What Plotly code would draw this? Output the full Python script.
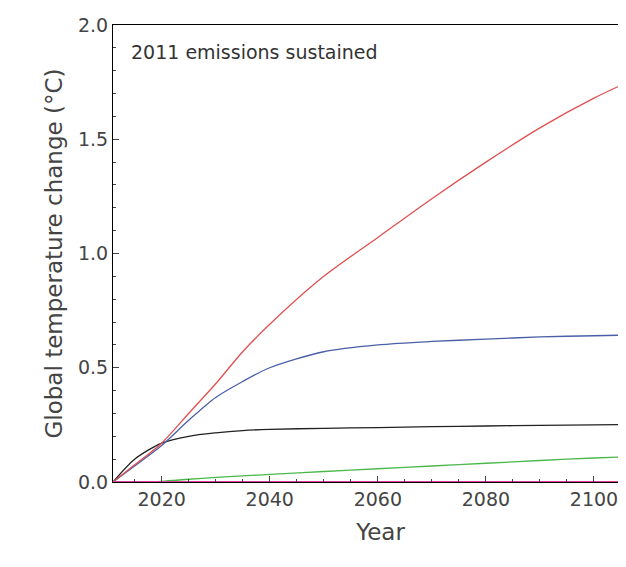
import plotly.graph_objects as go

years = [2011, 2015, 2020, 2025, 2030, 2035, 2040, 2050, 2060, 2070, 2080, 2090, 2100, 2110]
red   = [0.0, 0.075, 0.17, 0.30, 0.43, 0.57, 0.69, 0.90, 1.07, 1.24, 1.40, 1.55, 1.68, 1.79]
blue  = [0.0, 0.07, 0.16, 0.27, 0.37, 0.44, 0.50, 0.57, 0.60, 0.615, 0.625, 0.635, 0.64, 0.645]
black = [0.0, 0.10, 0.17, 0.20, 0.215, 0.225, 0.23, 0.235, 0.238, 0.242, 0.245, 0.248, 0.25, 0.252]
green = [0.0, 0.0, 0.003, 0.012, 0.02, 0.027, 0.033, 0.046, 0.058, 0.07, 0.082, 0.094, 0.105, 0.113]
magenta = [0.0]*len(years)

fig = go.Figure()
for ys, c in [(green, "#4cb84c"), (black, "#222222"), (blue, "#4a5fa8"), (red, "#e05050")]:
    fig.add_trace(go.Scatter(x=years, y=ys, mode="lines", line=dict(color=c, width=1.3, shape="spline", smoothing=0.8), showlegend=False))
fig.add_trace(go.Scatter(x=years, y=magenta, mode="lines", line=dict(color="#e0409a", width=2), showlegend=False, cliponaxis=False))

fig.add_annotation(x=0.03, y=0.97, xref="paper", yref="paper", text="2011 emissions sustained",
                   showarrow=False, xanchor="left", yanchor="top", font=dict(size=19, color="#333"))
fig.update_layout(width=640, height=567, plot_bgcolor="white", paper_bgcolor="white",
                  margin=dict(l=105, r=0, t=17, b=93),
                  font=dict(family="DejaVu Sans", color="#444", size=19))
fig.update_xaxes(range=[2011, 2110], tickvals=[2020, 2040, 2060, 2080, 2100], title_text="Year",
                 showline=True, mirror=True, linecolor="black", ticks="inside", ticklen=6,
                 minor=dict(ticks="inside", ticklen=3, dtick=5, tick0=2020), showgrid=False)
fig.update_yaxes(range=[0, 2.0], tickvals=[0, 0.5, 1.0, 1.5, 2.0], ticktext=["0.0", "0.5", "1.0", "1.5", "2.0"],
                 title_text="Global temperature change (°C)", title_standoff=8,
                 showline=True, mirror=True, linecolor="black", ticks="inside", ticklen=6,
                 minor=dict(ticks="inside", ticklen=3, dtick=0.1), showgrid=False, zeroline=False)
fig.write_html("out.html")
